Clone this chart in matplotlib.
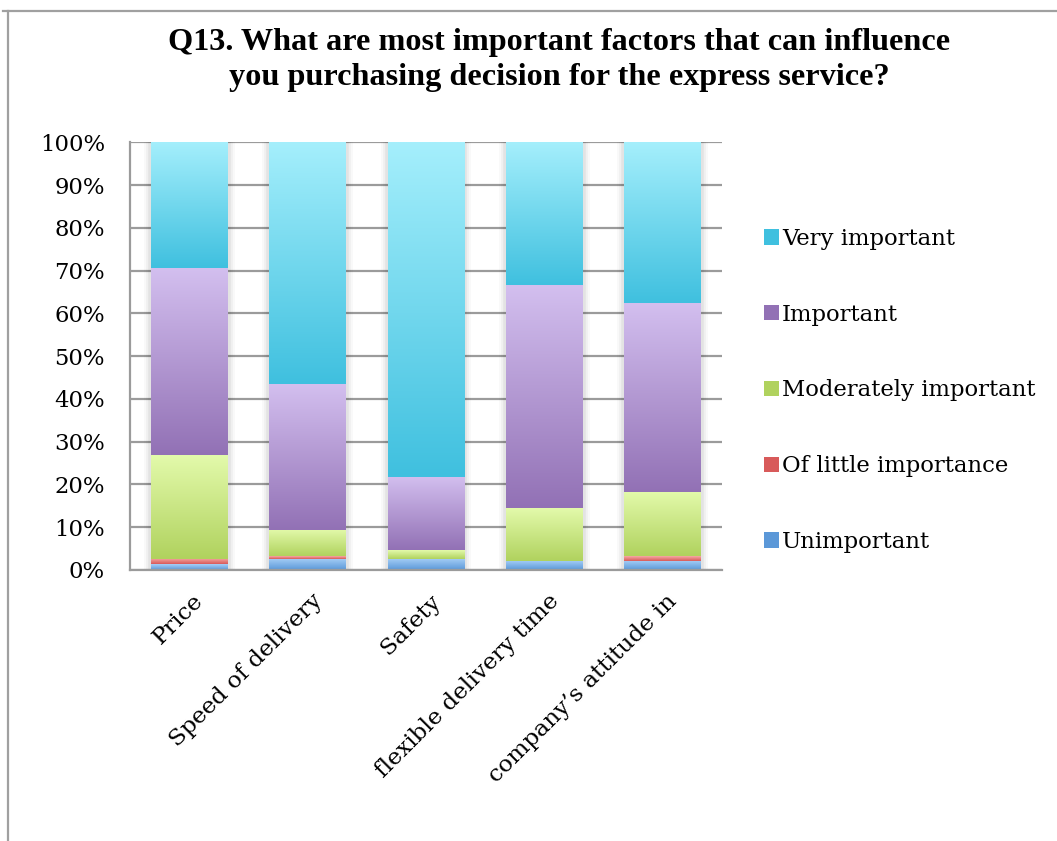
import numpy as np
import matplotlib
matplotlib.use("Agg")
import matplotlib.pyplot as plt
from matplotlib.colors import LinearSegmentedColormap
from matplotlib.patches import Patch
from matplotlib.transforms import ScaledTranslation
import matplotlib.patheffects as pe

categories = ["Price", "Speed of delivery", "Safety",
              "flexible delivery time", "company\u2019s attitude in"]

# share of answers per factor, in percent (bottom of the stack first)
unimportant = [1.3, 2.6, 2.6, 2.2, 2.2]
little = [1.3, 0.7, 0.0, 0.0, 1.1]
moderate = [24.3, 6.1, 2.1, 12.3, 15.0]
important = [43.6, 34.1, 17.1, 52.1, 44.1]
very = [29.5, 56.5, 78.2, 33.4, 37.6]

series = [
    ("Unimportant", unimportant, "#A7CFF7", "#5B98D8"),
    ("Of little importance", little, "#F6ABA4", "#D85A5A"),
    ("Moderately important", moderate, "#E3FAAB", "#B0D25E"),
    ("Important", important, "#D3BFEF", "#9271B5"),
    ("Very important", very, "#A5EFFC", "#3FC0DF"),
]

yticks = np.arange(0, 101, 10)
ytick_labels = ["%d%%" % v for v in yticks]

serif = "DejaVu Serif"
grid_col = "#9b9b9b"
width = 0.65

fig = plt.figure(figsize=(10.57, 8.41), dpi=100)
ax = fig.add_axes([130 / 1057, 1 - 570 / 841, 592 / 1057, 427.7 / 841])

# outer chart frame (top and left edges)
fig.add_artist(plt.Line2D([3 / 1057, 1], [1 - 11 / 841] * 2, color="#a0a0a0", lw=1.6,
                          transform=fig.transFigure))
fig.add_artist(plt.Line2D([8 / 1057] * 2, [0, 1 - 11 / 841], color="#a0a0a0", lw=1.6,
                          transform=fig.transFigure))

x = np.arange(len(categories))
grad = np.linspace(0, 1, 256).reshape(-1, 1)

# soft shadow behind each whole stack
totals = np.sum([s[1] for s in series], axis=0)
shadow = [pe.Stroke(linewidth=10, foreground="k", alpha=0.025),
          pe.Stroke(linewidth=7, foreground="k", alpha=0.035),
          pe.Stroke(linewidth=4, foreground="k", alpha=0.05),
          pe.Normal()]
back = ax.bar(x, totals, width, color="white", lw=0, zorder=1.5)
for b in back:
    b.set_path_effects(shadow)

bottom = np.zeros(len(categories))
for name, vals, top_c, bot_c in series:
    vals = np.array(vals)
    bars = ax.bar(x, vals, width, bottom=bottom, color=bot_c, lw=0, zorder=2)
    cmap = LinearSegmentedColormap.from_list(name, [bot_c, top_c])
    for b in bars:
        if b.get_height() <= 0:
            b.set_visible(False)
            continue
        x0, y0 = b.get_xy()
        im = ax.imshow(grad, cmap=cmap, origin="lower", aspect="auto", zorder=3,
                       extent=(x0, x0 + b.get_width(), y0, y0 + b.get_height()))
        im.set_clip_path(b)
    bottom += vals

ax.set_xlim(-0.5, len(categories) - 0.5)
ax.set_ylim(0, 100)
ax.set_yticks(yticks)
ax.set_yticklabels(ytick_labels, fontsize=16.4, family=serif)
ax.yaxis.grid(True, color=grid_col, lw=1.6, zorder=0)
ax.set_axisbelow(True)
ax.tick_params(axis="y", length=0, pad=18)

ax.set_xticks(x)
ax.set_xticklabels(categories, fontsize=16.8, family=serif, rotation=45,
                   ha="right", va="center", rotation_mode="anchor")
ax.tick_params(axis="x", length=0, pad=20)
for lab in ax.get_xticklabels():
    lab.set_transform(lab.get_transform() + ScaledTranslation(0.11, 0, fig.dpi_scale_trans))

for s in ["top", "right"]:
    ax.spines[s].set_visible(False)
for s in ["left", "bottom"]:
    ax.spines[s].set_color(grid_col)
    ax.spines[s].set_linewidth(1.6)
    ax.spines[s].set_zorder(4)

handles = [Patch(facecolor=bot_c, edgecolor="none") for _, _, _, bot_c in series][::-1]
labels = [s[0] for s in series][::-1]
fig.legend(handles, labels, loc="center left", bbox_to_anchor=(764 / 1057, 1 - 390.5 / 841),
           frameon=False, borderpad=0, borderaxespad=0, handlelength=0.65, handleheight=0.65,
           handletextpad=0.15, labelspacing=2.36, prop={"family": serif, "size": 16.4})

fig.text(559 / 1057, 1 - 60 / 841,
         "Q13. What are most important factors that can influence\n"
         "you purchasing decision for the express service?",
         ha="center", va="center", fontsize=23.2, fontweight="bold",
         family="Liberation Serif", linespacing=1.28)

fig.savefig("out.png", dpi=100)
